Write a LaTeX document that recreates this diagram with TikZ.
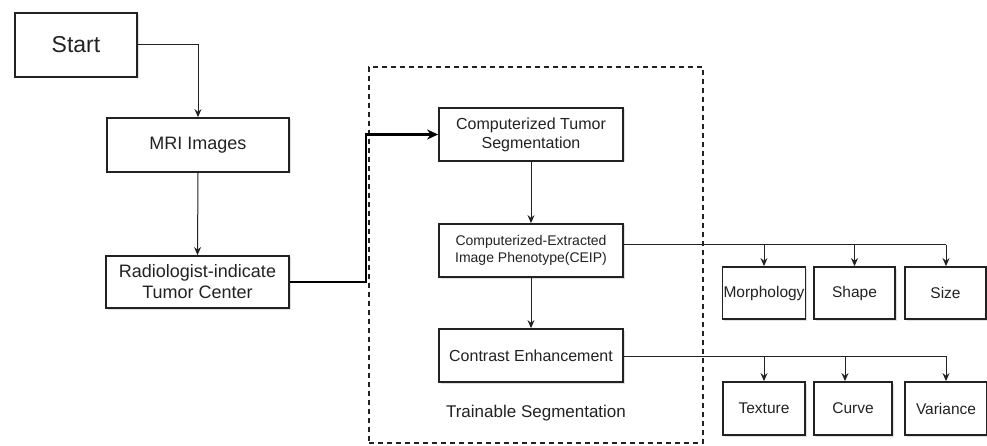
\documentclass[tikz,border=0pt]{standalone}
\usepackage{fontspec}
\setmainfont{Liberation Sans}
\usetikzlibrary{arrows.meta,shadows}
\definecolor{ink}{HTML}{222222}
\tikzset{
  box/.style={draw=ink, line width=1.8pt, fill=white, text=ink, align=center, inner sep=1pt,
    drop shadow={shadow xshift=1.5pt, shadow yshift=-1.5pt, opacity=0.25, fill=gray}},
  arr/.style={draw=ink, line width=1pt, -{Stealth[length=8pt,width=7pt]}},
  conn/.style={draw=ink, line width=1pt},
  bigarr/.style={draw=black, line width=2.8pt, -{Stealth[length=11pt,width=10pt]}},
  frame/.style={draw=ink, line width=1.6pt, dash pattern=on 5pt off 4pt},
  fA/.style={font=\fontsize{23}{26}\selectfont},
  fB/.style={font=\fontsize{18}{21}\selectfont},
  fC/.style={font=\fontsize{16}{19}\selectfont},
  fD/.style={font=\fontsize{14}{16.5}\selectfont},
  fE/.style={font=\fontsize{15.5}{18}\selectfont},
}
\begin{document}
\begin{tikzpicture}[x=1pt,y=-1pt]
\useasboundingbox (0,0) rectangle (987,446);
\fill[white] (0,0) rectangle (987,446);
% group frame
\node[frame, minimum width=334pt, minimum height=376pt, inner sep=0pt] (grp) at (536,255) {};
\node[text=ink, font=\fontsize{17}{20}\selectfont] (lbl) at (536,413) {Trainable Segmentation};
% nodes
\node[box, fA, minimum width=122pt, minimum height=64pt] (start) at (76,45) {Start};
\node[box, fB, minimum width=182pt, minimum height=54pt] (mri) at (198,145) {MRI Images};
\node[box, fB, minimum width=183pt, minimum height=52pt] (rad) at (197.5,282) {Radiologist-indicate\\Tumor Center};
\node[box, fC, minimum width=184pt, minimum height=53pt] (cts) at (531,134.5) {Computerized Tumor\\Segmentation};
\node[box, fD, minimum width=184pt, minimum height=53pt] (ceip) at (531,250.5) {Computerized-Extracted\\Image Phenotype(CEIP)};
\node[box, fC, minimum width=184pt, minimum height=53pt] (ce) at (531,355.5) {Contrast Enhancement};
\node[box, fE, minimum width=82pt, minimum height=52pt] (morph) at (764,293) {Morphology};
\node[box, fE, minimum width=81pt, minimum height=52pt] (shape) at (854.5,293) {Shape};
\node[box, fE, minimum width=81pt, minimum height=52pt] (size) at (945.5,293) {Size};
\node[box, fE, minimum width=82pt, minimum height=53pt] (texture) at (764,408.5) {Texture};
\node[box, fE, minimum width=78pt, minimum height=53pt] (curve) at (853,408.5) {Curve};
\node[box, fE, minimum width=82pt, minimum height=53pt] (variance) at (946,408.5) {Variance};
% connectors
\draw[arr] (start.east) -| (mri.north);
\draw[arr] (mri.south) -- (rad.north);
\draw[bigarr] (rad.east) -- ++(76,0) |- (cts.west);
\draw[arr] (cts.south) -- (ceip.north);
\draw[arr] (ceip.south) -- (ce.north);
\coordinate (b1) at (946,245);
\coordinate (b2) at (946,356);
\draw[conn] (ceip.east |- b1) -- (b1);
\draw[arr] (morph.north |- b1) -- (morph.north);
\draw[arr] (shape.north |- b1) -- (shape.north);
\draw[arr] (b1) -- (size.north -| b1);
\draw[conn] (ce.east |- b2) -- (b2);
\draw[arr] (texture.north |- b2) -- (texture.north);
\draw[arr] ([xshift=-8pt]curve.north |- b2) -- ([xshift=-8pt]curve.north);
\draw[arr] (b2) -- (variance.north -| b2);
\end{tikzpicture}
\end{document}
